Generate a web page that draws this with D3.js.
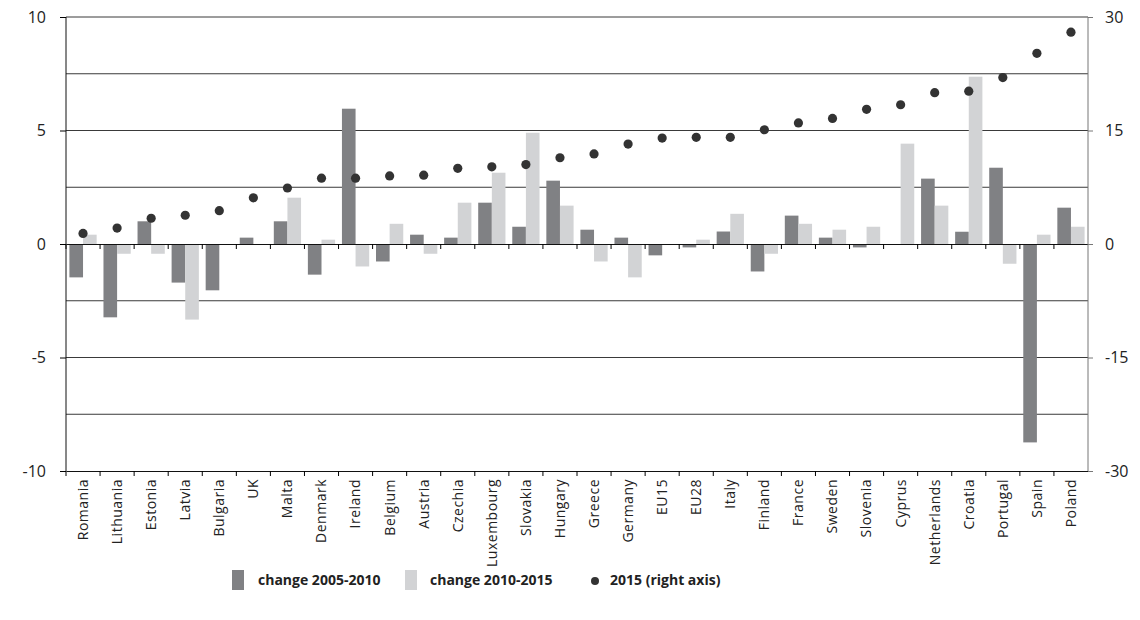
<!DOCTYPE html>
<html>
<head>
<meta charset="utf-8">
<script src="https://cdn.jsdelivr.net/npm/d3@7"></script>
<style>
  body { margin: 0; background: #fff; }
  text { font-family: "Open Sans", "Noto Sans", sans-serif; fill: #222; }
</style>
</head>
<body>
<script>
var countries = ["Romania","Lithuania","Estonia","Latvia","Bulgaria","UK","Malta","Denmark","Ireland","Belgium",
  "Austria","Czechia","Luxembourg","Slovakia","Hungary","Greece","Germany","EU15","EU28","Italy",
  "Finland","France","Sweden","Slovenia","Cyprus","Netherlands","Croatia","Portugal","Spain","Poland"];
var change0510 = [-1.47,-3.23,1.0,-1.7,-2.04,0.28,1.0,-1.35,5.96,-0.77,
  0.41,0.28,1.82,0.76,2.79,0.63,0.28,-0.5,-0.15,0.55,
  -1.21,1.25,0.28,-0.15,0,2.88,0.54,3.36,-8.74,1.6];
var change1015 = [0.41,-0.43,-0.43,-3.33,0,0,2.04,0.19,-0.99,0.89,
  -0.43,1.82,3.14,4.9,1.69,-0.77,-1.47,0,0.19,1.33,
  -0.43,0.89,0.63,0.76,4.42,1.69,7.37,-0.87,0.41,0.76];
var level2015 = [1.4,2.1,3.4,3.8,4.4,6.1,7.4,8.7,8.7,9.0,
  9.1,10.0,10.2,10.5,11.4,11.9,13.2,14.0,14.1,14.1,
  15.1,16.0,16.6,17.8,18.4,20.0,20.2,22.0,25.2,28.0];
var leftTicks = [10,5,0,-5,-10];
var rightTicks = [30,15,0,-15,-30];
var gridValues = [10,7.5,5,2.5,-2.5,-5,-7.5];

var width = 1140, height = 620;
var mLeft = 66, mRight = 1088, mTop = 17, mBottom = 471;

var svg = d3.select("body").append("svg")
  .attr("width", width)
  .attr("height", height);

var x = d3.scaleBand()
  .domain(countries)
  .range([mLeft, mRight]);

var xIn = d3.scaleBand()
  .domain([0,1])
  .range([0, x.bandwidth()])
  .paddingOuter(0.25);

var y = d3.scaleLinear().domain([-10, 10]).range([mBottom, mTop]);
var y2 = d3.scaleLinear().domain([-30, 30]).range([mBottom, mTop]);

// gridlines
svg.append("g")
  .selectAll("line")
  .data(gridValues)
  .enter().append("line")
  .attr("x1", mLeft).attr("x2", mRight)
  .attr("y1", function(d){ return y(d); })
  .attr("y2", function(d){ return y(d); })
  .attr("stroke", "#3a3a3a")
  .attr("stroke-width", 1);

// bars
var g = svg.append("g");
g.selectAll("rect.a")
  .data(change0510)
  .enter().append("rect")
  .attr("x", function(d,i){ return x(countries[i]) + xIn(0); })
  .attr("width", xIn.bandwidth())
  .attr("y", function(d){ return y(Math.max(0,d)); })
  .attr("height", function(d){ return Math.abs(y(d) - y(0)); })
  .attr("fill", "#808184");

g.selectAll("rect.b")
  .data(change1015)
  .enter().append("rect")
  .attr("x", function(d,i){ return x(countries[i]) + xIn(1); })
  .attr("width", xIn.bandwidth())
  .attr("y", function(d){ return y(Math.max(0,d)); })
  .attr("height", function(d){ return Math.abs(y(d) - y(0)); })
  .attr("fill", "#d2d3d5");

// zero axis with ticks at band edges
var zeroAxis = svg.append("g")
  .attr("transform", "translate(0," + y(0) + ")")
  .call(d3.axisBottom(x).tickSize(5).tickFormat("").tickSizeOuter(0));
zeroAxis.selectAll(".tick line").attr("transform", "translate(" + (-x.bandwidth()/2) + ",0)");
zeroAxis.select(".domain").attr("stroke", "#111");

// bottom axis
var xAxis = svg.append("g")
  .attr("transform", "translate(0," + mBottom + ")")
  .call(d3.axisBottom(x).tickSize(5).tickSizeOuter(0));
xAxis.select(".domain").attr("stroke", "#111");
xAxis.selectAll(".tick line").attr("transform", "translate(" + (-x.bandwidth()/2) + ",0)");
xAxis.selectAll(".tick text")
  .attr("transform", "rotate(-90)")
  .attr("x", -8).attr("y", 0).attr("dy", "0.35em")
  .style("text-anchor", "end")
  .style("font-size", "14px")
  .style("letter-spacing", "0.5px");

// left axis
var yAxis = svg.append("g")
  .attr("transform", "translate(" + mLeft + ",0)")
  .call(d3.axisLeft(y).tickValues(leftTicks).tickFormat(String).tickSize(6).tickPadding(14));
yAxis.select(".domain").attr("stroke", "#111").attr("d", "M0," + mTop + "V" + mBottom);
yAxis.selectAll(".tick text").style("font-size", "16px");

// right axis
var yAxis2 = svg.append("g")
  .attr("transform", "translate(" + mRight + ",0)")
  .call(d3.axisRight(y2).tickValues(rightTicks).tickFormat(String).tickSize(5).tickPadding(12));
yAxis2.select(".domain").attr("stroke", "#777").attr("d", "M0," + mTop + "V" + mBottom);
yAxis2.selectAll(".tick line").attr("stroke", "#777");
yAxis2.selectAll(".tick text").style("font-size", "16px");

// dots
svg.append("g")
  .selectAll("circle")
  .data(level2015)
  .enter().append("circle")
  .attr("cx", function(d,i){ return x(countries[i]) + x.bandwidth()/2; })
  .attr("cy", function(d){ return y2(d); })
  .attr("r", 4.6)
  .attr("fill", "#333");

// legend
var legend = svg.append("g").attr("transform", "translate(0,580)");
legend.append("rect").attr("x", 232).attr("y", -10).attr("width", 12).attr("height", 20).attr("fill", "#808184");
legend.append("text").attr("x", 258).attr("y", 0).attr("dy", "0.35em").text("change 2005-2010")
  .style("font-size", "14px").style("font-weight", "bold");
legend.append("rect").attr("x", 405).attr("y", -10).attr("width", 12).attr("height", 20).attr("fill", "#d2d3d5");
legend.append("text").attr("x", 430).attr("y", 0).attr("dy", "0.35em").text("change 2010-2015")
  .style("font-size", "14px").style("font-weight", "bold");
legend.append("circle").attr("cx", 595).attr("cy", 1).attr("r", 4).attr("fill", "#333");
legend.append("text").attr("x", 610).attr("y", 0).attr("dy", "0.35em").text("2015 (right axis)")
  .style("font-size", "14px").style("font-weight", "bold");
</script>
</body>
</html>
